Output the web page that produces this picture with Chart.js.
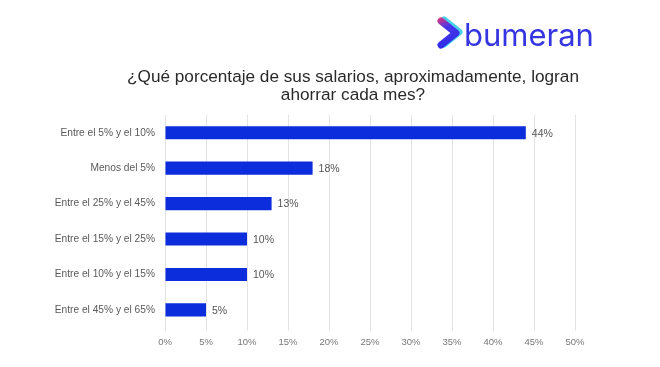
<!DOCTYPE html>
<html>
<head>
<meta charset="utf-8">
<script src="https://cdn.jsdelivr.net/npm/chart.js@4/dist/chart.umd.min.js"></script>
<style>
  body { margin: 0; background: #fff; }
  #wrap { width: 660px; height: 367px; }
</style>
</head>
<body>
<div id="wrap"><canvas id="chart"></canvas></div>
<script>
const categories = [
  'Entre el 5% y el 10%',
  'Menos del 5%',
  'Entre el 25% y el 45%',
  'Entre el 15% y el 25%',
  'Entre el 10% y el 15%',
  'Entre el 45% y el 65%'
];
const values = [44, 18, 13, 10, 10, 5];
const titleLines = ['¿Qué porcentaje de sus salarios, aproximadamente, logran', 'ahorrar cada mes?'];

// values at the end of each bar
const barLabels = {
  id: 'barLabels',
  afterDatasetsDraw(chart) {
    const ctx = chart.ctx;
    const meta = chart.getDatasetMeta(0);
    ctx.save();
    ctx.font = '10.5px "Liberation Sans", Arial, sans-serif';
    ctx.fillStyle = '#555';
    ctx.textBaseline = 'middle';
    meta.data.forEach((bar, i) => {
      ctx.fillText(values[i] + '%', bar.x + 6, bar.y + 1);
    });
    ctx.restore();
  }
};

// title + logo
const header = {
  id: 'header',
  afterDraw(chart) {
    const ctx = chart.ctx;
    ctx.save();
    ctx.fillStyle = '#2a2a2a';
    ctx.font = '17.2px "Liberation Sans", Arial, sans-serif';
    ctx.textAlign = 'center';
    ctx.textBaseline = 'middle';
    ctx.fillText(titleLines[0], 353, 77);
    ctx.fillText(titleLines[1], 353, 95);

    // chevron
    ctx.lineCap = 'round';
    ctx.lineJoin = 'round';
    ctx.lineWidth = 7;
    ctx.strokeStyle = '#45d2ea';
    ctx.beginPath();
    ctx.moveTo(444, 20); ctx.lineTo(459, 32); ctx.lineTo(444, 44);
    ctx.stroke();
    let g = ctx.createLinearGradient(440, 18, 452, 46);
    g.addColorStop(0, '#d8357f');
    g.addColorStop(0.35, '#4a36e8');
    g.addColorStop(1, '#2b2be6');
    ctx.strokeStyle = g;
    ctx.beginPath();
    ctx.moveTo(441, 21); ctx.lineTo(456, 33); ctx.lineTo(441, 45);
    ctx.stroke();

    ctx.fillStyle = '#3535e2';
    ctx.font = '31px Inter, "Noto Sans", sans-serif';
    ctx.textAlign = 'left';
    ctx.textBaseline = 'alphabetic';
    ctx.fillText('bumeran', 464, 46);
    ctx.restore();
  }
};

new Chart(document.getElementById('chart'), {
  type: 'bar',
  data: {
    labels: categories,
    datasets: [{
      data: values,
      backgroundColor: '#0c2ddb',
      categoryPercentage: 1,
      barPercentage: 0.37
    }]
  },
  options: {
    indexAxis: 'y',
    responsive: true,
    maintainAspectRatio: false,
    animation: false,
    layout: { padding: { top: 115, right: 85, bottom: 13, left: 0 } },
    plugins: {
      legend: { display: false },
      tooltip: { enabled: false }
    },
    scales: {
      x: {
        min: 0,
        max: 50,
        ticks: {
          stepSize: 5,
          padding: 6,
          color: '#777',
          font: { size: 9.5, family: '"Liberation Sans", Arial, sans-serif' },
          callback: v => v + '%'
        },
        grid: { color: '#e3e3e3', tickLength: 3 },
        border: { display: false }
      },
      y: {
        afterFit(scale) { scale.width = 165; },
        ticks: {
          padding: 2,
          color: '#5a5a5a',
          font: { size: 10.2, family: '"Liberation Sans", Arial, sans-serif' }
        },
        grid: { display: false },
        border: { display: false }
      }
    }
  },
  plugins: [barLabels, header]
});
</script>
</body>
</html>
